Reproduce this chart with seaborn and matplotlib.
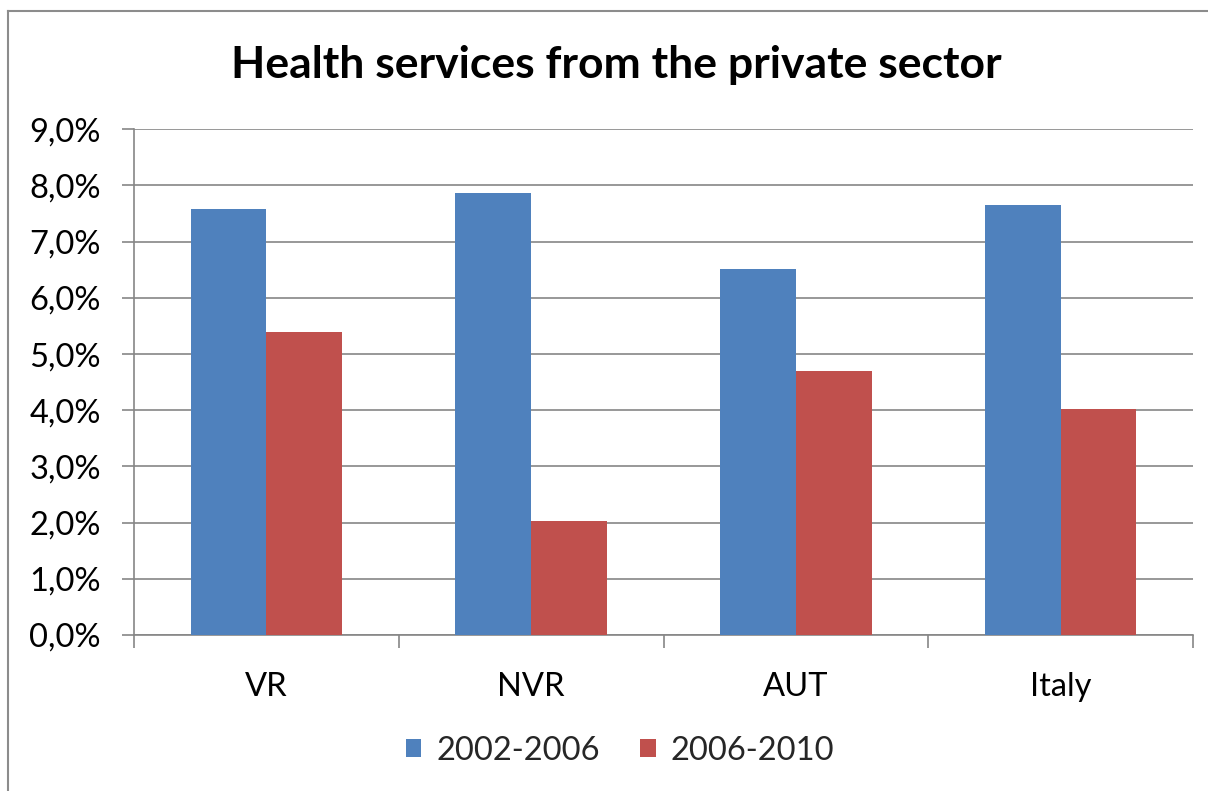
import matplotlib
matplotlib.use("Agg")
import matplotlib.pyplot as plt
import seaborn as sns
import pandas as pd
from matplotlib.ticker import FuncFormatter, MultipleLocator, FixedLocator, NullFormatter

# Data: growth share of health services from the private sector
categories = ["VR", "NVR", "AUT", "Italy"]
periods = ["2002-2006", "2006-2010"]
share_2002_2006 = [7.58, 7.87, 6.52, 7.65]
share_2006_2010 = [5.40, 2.03, 4.70, 4.03]
colors = ["#4F81BD", "#C0504D"]
title = "Health services from the private sector"

sns.set_theme(style="white")
plt.rcParams["font.family"] = ["Lato", "DejaVu Sans"]

df = pd.DataFrame({
    "area": categories * 2,
    "period": [periods[0]] * len(categories) + [periods[1]] * len(categories),
    "value": share_2002_2006 + share_2006_2010,
})

W, H = 1208, 791
fig = plt.figure(figsize=(W / 100, H / 100), dpi=100)
fig.patch.set_facecolor("white")
fig.patch.set_linewidth(0)

# chart frame: an empty background axes whose left and top spines run off the canvas
frame_color = "#8c8c8c"
bg = fig.add_axes([8 / W, -0.05, 1.0, 1 - 10.5 / H + 0.05], zorder=-1)
bg.set_xticks([])
bg.set_yticks([])
bg.patch.set_alpha(0)
for s in ["right", "bottom"]:
    bg.spines[s].set_visible(False)
for s in ["left", "top"]:
    bg.spines[s].set_color(frame_color)
    bg.spines[s].set_linewidth(1.5)

# plot area in pixel terms
x0, x1 = 134, 1193
y_top, y_bot = 129.3, 635
ax = fig.add_axes([x0 / W, 1 - y_bot / H, (x1 - x0) / W, (y_bot - y_top) / H])

sns.barplot(data=df, x="area", y="value", hue="period", order=categories,
            hue_order=periods, palette=colors, width=0.572, saturation=1,
            edgecolor="none", ax=ax, zorder=3)

grid_color = "#868686"
ax.set_ylim(0, 9)
ax.set_xlim(-0.5, len(categories) - 0.5)
ax.yaxis.set_major_locator(MultipleLocator(1))
ax.yaxis.set_major_formatter(FuncFormatter(lambda v, p: f"{v:.1f}%".replace(".", ",")))
ax.grid(axis="y", color=grid_color, linewidth=1.2, zorder=0)
ax.set_axisbelow(True)
ax.set_xlabel("")
ax.set_ylabel("")

for s in ["top", "right"]:
    ax.spines[s].set_visible(False)
for s in ["left", "bottom"]:
    ax.spines[s].set_color(grid_color)
    ax.spines[s].set_linewidth(1.2)

ax.tick_params(axis="y", which="major", length=9, width=1.2, color=grid_color,
               labelsize=23.5, pad=15, labelcolor="black", left=True)
ax.xaxis.set_minor_locator(FixedLocator([i - 0.5 for i in range(len(categories) + 1)]))
ax.xaxis.set_minor_formatter(NullFormatter())
ax.tick_params(axis="x", which="major", length=0, labelsize=23.5, pad=27, labelcolor="black")
ax.tick_params(axis="x", which="minor", length=9, width=1.2, color=grid_color, bottom=True)

sns.move_legend(ax, "center", bbox_to_anchor=(620 / W, 1 - 751 / H), bbox_transform=fig.transFigure,
                ncol=2, frameon=False, title=None, fontsize=23.5,
                handlelength=0.48, handleheight=0.48, handletextpad=0.45, columnspacing=1.25)

fig.text(616 / W, 1 - 78 / H, title, ha="center", va="baseline",
         fontsize=32, fontweight="bold", color="black")

fig.savefig("out.png", dpi=100)
